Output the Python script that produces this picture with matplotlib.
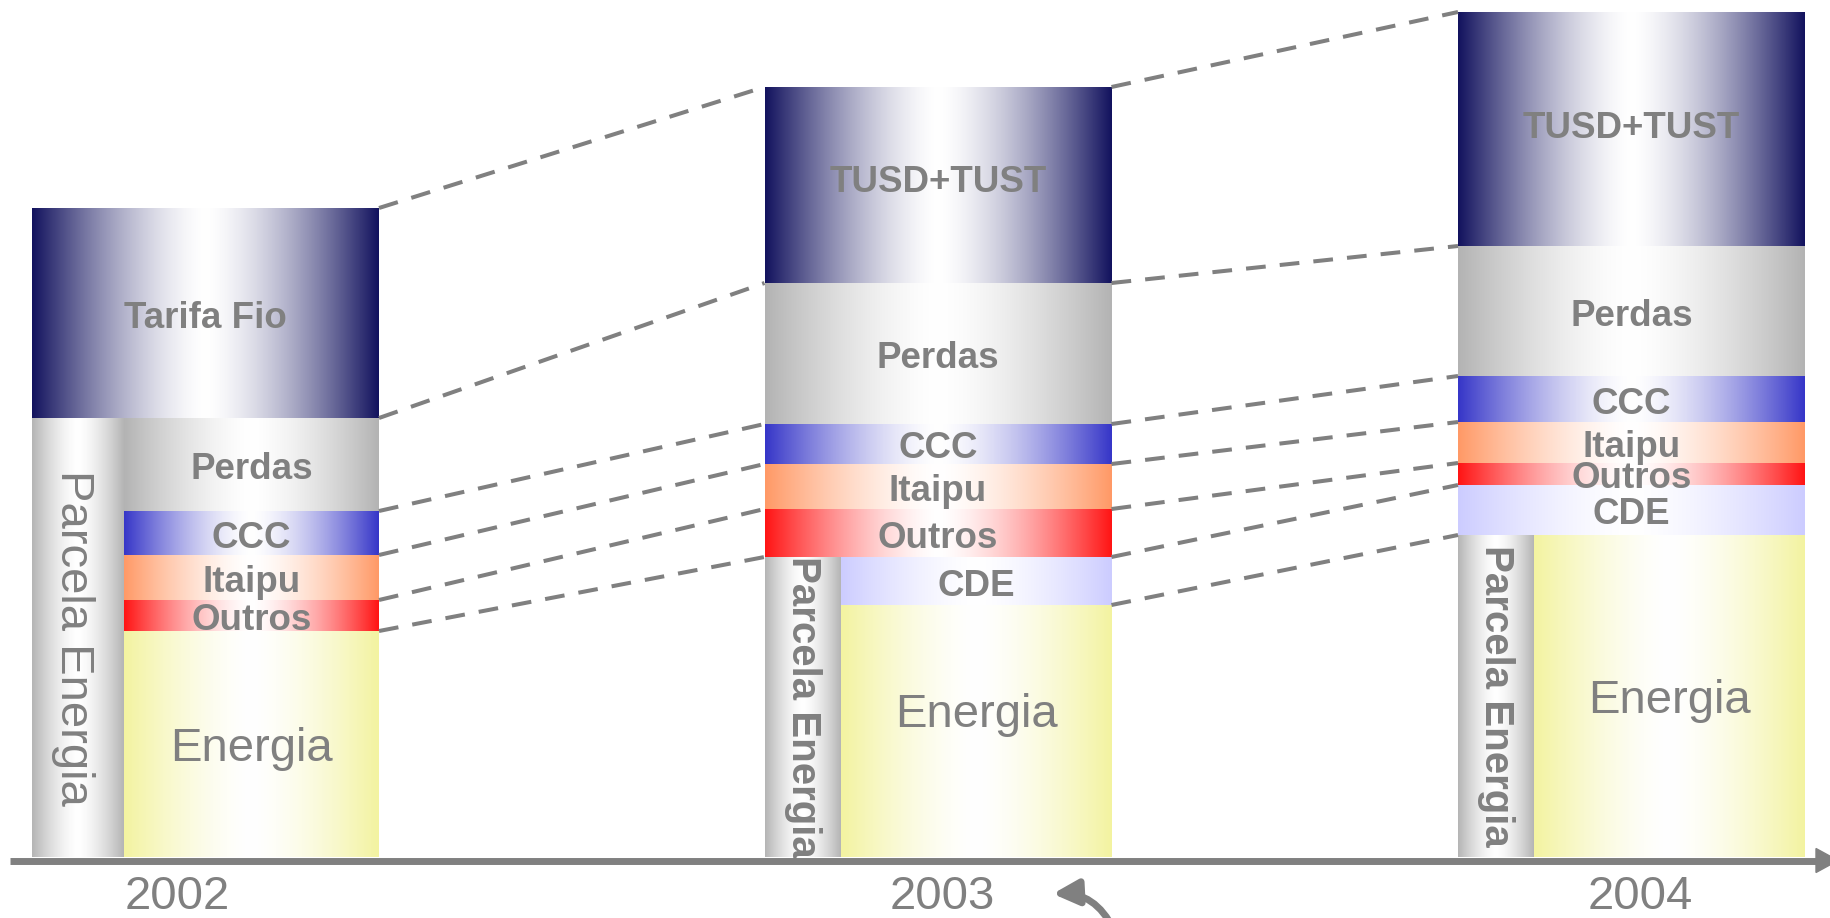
import numpy as np
import matplotlib
matplotlib.use("Agg")
import matplotlib.pyplot as plt
from matplotlib.colors import to_rgb
from matplotlib.patches import Rectangle, Polygon

plt.rcParams['font.family'] = ['Liberation Sans', 'DejaVu Sans']

# ---------------- data ----------------
years = ['2002', '2003', '2004']
components = ['Rede', 'Perdas', 'CCC', 'Itaipu', 'Outros', 'CDE', 'Energia']
top_labels = ['Tarifa Fio', 'TUSD+TUST', 'TUSD+TUST']
v2002 = [210, 93, 44, 45, 31, 0, 226]
v2003 = [196, 141, 40, 45, 48, 48, 252]
v2004 = [234, 130, 46, 41, 22, 50, 322]
parcela_from = [1, 5, 6]          # first component included in "Parcela Energia"
parcela_label = 'Parcela Energia'

# ---------------- style / layout ----------------
colors = ['#12125e', '#b3b3b3', '#3636c8', '#ff9966', '#ff1414', '#ccccff', '#f3f3a0']
parcela_color = '#b4b4b4'
grey = '#808080'
bar_left = [32, 764.5, 1458]
bar_width = 347
col_width = [92, 76, 76]
year_label_x = [177, 942, 1640]
energia_dy = [0, 21, 0]
top_dy = [0, 7, 5]
text_dy = -5
parcela_style = [dict(fontsize=34, fontweight='normal'),
                 dict(fontsize=29, fontweight='bold'),
                 dict(fontsize=29, fontweight='bold')]
parcela_dx = [-5, 0, 0]

fig = plt.figure(figsize=(18.3, 9.18), dpi=100)
ax = fig.add_axes([0, 0, 1, 1])


def grad(x0, x1, y0, y1, color, z=2):
    c = np.array(to_rgb(color))
    f = np.linspace(0, 1, 400)
    m = np.abs(2 * f - 1) ** 1.5
    img = (1 - m)[:, None] * np.ones(3)[None, :] + m[:, None] * c[None, :]
    ax.imshow(img[None, :, :], extent=[x0, x1, y0, y1],
              aspect='auto', interpolation='bilinear', zorder=z)


def label(x, y, s, rect, **kw):
    t = ax.text(x, y, s, ha='center', va='center', color=grey, zorder=5, **kw)
    clip = Rectangle((rect[0], rect[2]), rect[1] - rect[0], rect[3] - rect[2],
                     transform=ax.transData)
    t.set_clip_path(clip)
    return t


all_vals = [v2002, v2003, v2004]
for i, vals in enumerate(all_vals):
    left = bar_left[i]
    right = left + bar_width
    colr = left + col_width[i]
    for k, v in enumerate(vals):
        if v == 0:
            continue
        bot = sum(vals[k + 1:])
        top = bot + v
        x0 = colr if k >= parcela_from[i] else left
        grad(x0, right, bot, top, colors[k])
        name = top_labels[i] if k == 0 else components[k]
        if name == 'Energia':
            kw = dict(fontsize=34)
            dy = energia_dy[i]
        else:
            kw = dict(fontsize=26.5, fontweight='bold')
            dy = top_dy[i] if k == 0 else 0
        label((x0 + right) / 2, (bot + top) / 2 + text_dy + dy, name,
              (x0, right, bot, top), **kw)
    ptop = sum(vals[parcela_from[i]:])
    grad(left, colr, 0, ptop, parcela_color)
    label((left + colr) / 2 + parcela_dx[i], ptop / 2, parcela_label,
          (left, colr, 0, ptop), rotation=-90, **parcela_style[i])
    ax.text(year_label_x[i], -40, years[i], ha='center', va='center',
            fontsize=34, color=grey)

# dashed connectors between consecutive bars
for i in range(len(all_vals) - 1):
    a, b = all_vals[i], all_vals[i + 1]
    xa = bar_left[i] + bar_width
    xb = bar_left[i + 1]
    for k in range(len(components)):
        if k > 0 and a[k - 1] == 0:
            continue
        ax.plot([xa, xb], [sum(a[k:]), sum(b[k:])], color=grey, lw=2.9,
                linestyle=(0, (4.9, 3.5)), zorder=6, solid_capstyle='butt')

# time axis with arrow
ax.plot([10, 1820], [-3.5, -3.5], color=grey, lw=5, zorder=3, solid_capstyle='butt')
ax.add_patch(Polygon([(1816, 8.5), (1816, -15.5), (1838, -3.5)], closed=True,
                     color=grey, zorder=3))

# small curved arrow near 2003
ax.annotate('', xy=(1050, -37), xytext=(1115, -75),
            arrowprops=dict(arrowstyle='-|>', connectionstyle='arc3,rad=0.35',
                            lw=5, color=grey, mutation_scale=38),
            annotation_clip=False)

ax.set_xlim(0, 1830)
ax.set_ylim(-61, 857)
ax.axis('off')
fig.savefig('out.png', dpi=100)
